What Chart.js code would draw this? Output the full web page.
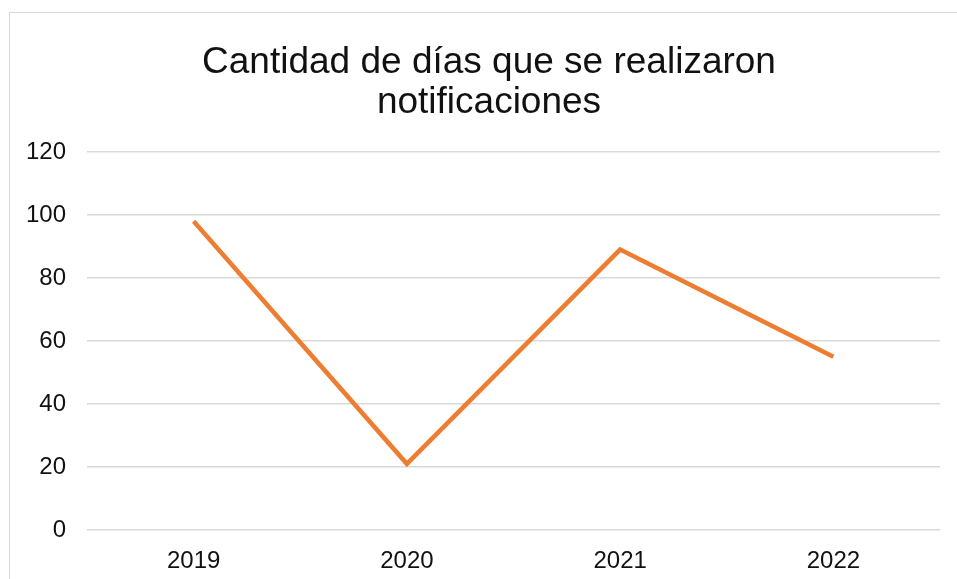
<!DOCTYPE html>
<html>
<head>
<meta charset="utf-8">
<script src="https://cdn.jsdelivr.net/npm/chart.js@4"></script>
<style>
  html, body { margin: 0; padding: 0; background: #ffffff; }
  #wrap { position: relative; width: 957px; height: 579px; overflow: hidden; }
  #frame { position: absolute; left: 9px; top: 12px; width: 1000px; height: 1000px; border: 1px solid #d9d9d9; box-sizing: border-box; }
  canvas { position: absolute; left: 0; top: 0; }
</style>
</head>
<body>
<div id="wrap">
  <div id="frame"></div>
  <canvas id="c" width="957" height="579"></canvas>
</div>
<script>
const titleLines = ['Cantidad de días que se realizaron', 'notificaciones'];
const years = ['2019', '2020', '2021', '2022'];
const notificationDays = [98, 21, 89, 55];
const yTicks = [0, 20, 40, 60, 80, 100, 120];

const FONT = '"Liberation Sans", Arial, sans-serif';

const shiftTitle = {
  id: 'shiftTitle',
  afterLayout(chart) {
    if (chart.titleBlock) { chart.titleBlock.left += 9; chart.titleBlock.right += 9; }
  }
};

new Chart(document.getElementById('c'), {
  type: 'line',
  data: {
    labels: years,
    datasets: [{
      data: notificationDays,
      borderColor: '#ED7D31',
      borderWidth: 4.5,
      pointRadius: 0,
      tension: 0,
      fill: false
    }]
  },
  options: {
    responsive: false,
    animation: false,
    devicePixelRatio: 1,
    layout: { padding: { left: 20, right: 17, top: 0, bottom: 0 } },
    plugins: {
      legend: { display: false },
      tooltip: { enabled: false },
      title: {
        display: true,
        text: titleLines,
        color: '#111111',
        font: { family: FONT, size: 37, weight: 'normal', lineHeight: 1.08 },
        padding: { top: 43, bottom: 29 }
      }
    },
    scales: {
      x: {
        offset: true,
        grid: { display: false, drawTicks: false },
        border: { display: false },
        ticks: { color: '#111111', font: { family: FONT, size: 24 }, padding: 17 },
        afterFit(scale) { scale.height = 49; }
      },
      y: {
        min: 0,
        max: 120,
        afterBuildTicks(scale) { scale.ticks = yTicks.map(v => ({ value: v })); },
        grid: { color: '#d9d9d9', lineWidth: 1.5, drawTicks: false },
        border: { display: false },
        ticks: { color: '#111111', font: { family: FONT, size: 24 }, padding: 21 },
        afterFit(scale) { scale.width = 67; }
      }
    }
  },
  plugins: [shiftTitle]
});
</script>
</body>
</html>
